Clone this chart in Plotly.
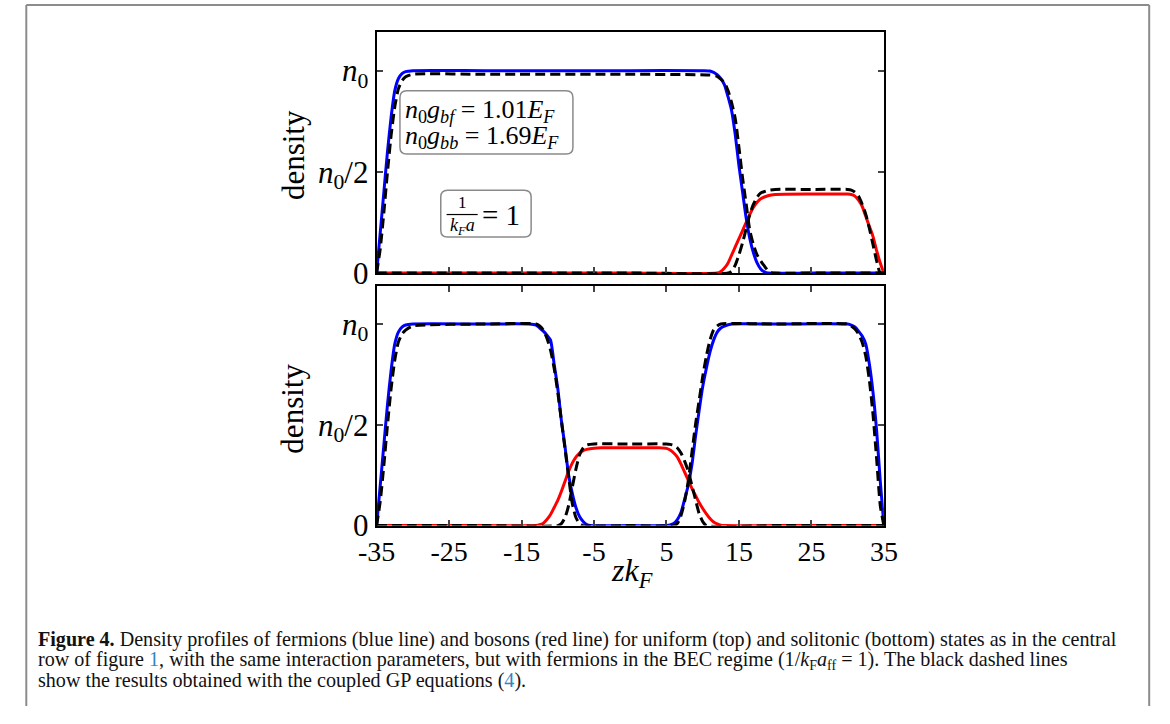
import plotly.graph_objects as go

# ---------------- data ----------------
x_tick_vals = [-35, -25, -15, -5, 5, 15, 25, 35]
x_tick_text = ["-35", "-25", "-15", "-5", "5", "15", "25", "35"]
y_tick_vals = [0, 0.5, 1.0]
y_tick_text = ["0", "<i>n</i><sub>0</sub>/2", "<i>n</i><sub>0</sub>"]

# top panel (uniform state)
top_fermion_z = [-35, -34.5, -34, -33.5, -33, -32.5, -32, -31.5, -31, -30, -20, 0, 10, 11, 12, 12.5, 13, 13.5, 14,
                 14.5, 15, 15.5, 16, 16.5, 17, 17.5, 18, 18.5, 19, 25, 35]
top_fermion_n = [0, 0.2, 0.4, 0.6, 0.77, 0.9, 0.96, 0.985, 0.995, 1.0, 1.0, 1.0, 1.0, 0.998, 0.98, 0.96, 0.93, 0.87, 0.8,
                 0.68, 0.53, 0.4, 0.27, 0.17, 0.1, 0.05, 0.02, 0.006, 0, 0, 0]
top_boson_z = [-35, 0, 12, 12.5, 13, 13.5, 14, 14.5, 15, 15.5, 16, 16.5, 17, 17.5, 18, 19, 20, 25, 30, 30.5, 31,
               31.5, 32, 32.5, 33, 33.5, 34, 34.5, 35]
top_boson_n = [0, 0, 0, 0.008, 0.025, 0.05, 0.09, 0.13, 0.17, 0.21, 0.25, 0.29, 0.325, 0.35, 0.367, 0.382, 0.388,
               0.39, 0.39, 0.388, 0.38, 0.36, 0.33, 0.28, 0.23, 0.18, 0.11, 0.05, 0]
top_gp_fermion_z = [-35, -34.5, -34, -33.5, -33, -32.5, -32, -31.5, -31, -30, -20, 0, 11, 12, 13, 13.5, 14, 14.5,
                    15, 15.5, 16, 16.5, 17, 17.5, 18, 18.5, 19, 19.5, 20, 27, 35]
top_gp_fermion_n = [0, 0.12, 0.3, 0.5, 0.68, 0.82, 0.91, 0.95, 0.97, 0.982, 0.982, 0.982, 0.978, 0.972, 0.94, 0.9,
                    0.84, 0.76, 0.62, 0.47, 0.34, 0.21, 0.14, 0.09, 0.06, 0.035, 0.012, 0.002, 0, 0, 0]
top_gp_boson_z = [-35, 0, 13.5, 14, 14.5, 15, 15.5, 16, 16.5, 17, 17.5, 18, 19, 20, 25, 30, 30.5, 31, 31.5, 32,
                  32.5, 33, 33.5, 34, 34.5, 35]
top_gp_boson_n = [0, 0, 0, 0.01, 0.04, 0.09, 0.15, 0.22, 0.29, 0.34, 0.375, 0.395, 0.408, 0.413, 0.413, 0.413,
                  0.41, 0.40, 0.38, 0.34, 0.29, 0.22, 0.14, 0.06, 0.0, 0]

# bottom panel (solitonic state)
bot_fermion_z = [-35, -34.5, -34, -33.5, -33, -32.5, -32, -31.5, -31, -30, -20, -14, -13, -12.5, -12, -11.5, -11,
                 -10.5, -10, -9.5, -9, -8.5, -8, -7.5, -7, -6.5, -6, -5.5, 0, 5, 5.5, 6, 6.5, 7, 7.5, 8, 8.5, 9,
                 9.5, 10, 10.5, 11, 11.5, 12, 12.5, 13, 14, 20, 30, 30.5, 31, 31.5, 32, 32.5, 33, 33.5, 34, 34.5, 35]
bot_fermion_n = [0, 0.2, 0.4, 0.6, 0.77, 0.9, 0.96, 0.985, 0.995, 1.0, 1.0, 1.0, 0.995, 0.98, 0.965, 0.945, 0.92,
                 0.8, 0.68, 0.52, 0.39, 0.25, 0.16, 0.09, 0.045, 0.02, 0.005, 0, 0, 0, 0.003, 0.01, 0.03, 0.065,
                 0.13, 0.2, 0.3, 0.44, 0.57, 0.69, 0.78, 0.86, 0.92, 0.96, 0.98, 0.99, 1.0, 1.0, 1.0, 0.995, 0.985,
                 0.965, 0.94, 0.9, 0.8, 0.66, 0.47, 0.22, 0]
bot_boson_z = [-35, -20, -13, -12.5, -12, -11.5, -11, -10.5, -10, -9.5, -9, -8.5, -8, -7.5, -7, -6.5, -6, -5, -4,
               0, 4, 5, 5.5, 6, 6.5, 7, 7.5, 8, 8.5, 9, 9.5, 10, 10.5, 11, 11.5, 12, 12.5, 13, 20, 35]
bot_boson_n = [0, 0, 0, 0.004, 0.012, 0.03, 0.055, 0.09, 0.125, 0.17, 0.22, 0.27, 0.31, 0.34, 0.36, 0.372, 0.378,
               0.384, 0.386, 0.386, 0.386, 0.383, 0.375, 0.36, 0.34, 0.305, 0.265, 0.225, 0.185, 0.15, 0.115, 0.085,
               0.058, 0.035, 0.018, 0.008, 0.002, 0, 0, 0]
bot_gp_fermion_z = [-35, -34.5, -34, -33.5, -33, -32.5, -32, -31.5, -31, -30, -20, -13, -12.5, -12, -11.5, -11,
                    -10.5, -10, -9.5, -9, -8.5, -8, -7.5, -7, -6.5, 0, 6, 6.5, 7, 7.5, 8, 8.5, 9, 9.5, 10, 10.5,
                    11, 11.5, 12, 12.5, 20, 30, 30.5, 31, 31.5, 32, 32.5, 33, 33.5, 34, 34.5, 35]
bot_gp_fermion_n = [0, 0.12, 0.3, 0.5, 0.68, 0.82, 0.91, 0.95, 0.97, 0.99, 1.0, 1.0, 0.99, 0.97, 0.93, 0.87, 0.78,
                    0.66, 0.52, 0.38, 0.24, 0.11, 0.04, 0.01, 0, 0, 0, 0.01, 0.05, 0.12, 0.22, 0.36, 0.5, 0.62,
                    0.74, 0.84, 0.92, 0.97, 0.99, 1.0, 1.0, 1.0, 0.99, 0.975, 0.95, 0.91, 0.84, 0.72, 0.55, 0.33,
                    0.1, 0]
bot_gp_boson_z = [-35, -20, -10, -9.5, -9, -8.5, -8, -7.5, -7, -6.5, -6, -5, 0, 5, 5.5, 6, 6.5, 7, 7.5, 8, 8.5, 9,
                  9.5, 10, 10.5, 20, 35]
bot_gp_boson_n = [0, 0, 0, 0.01, 0.04, 0.1, 0.19, 0.28, 0.35, 0.385, 0.4, 0.405, 0.405, 0.405, 0.403, 0.398,
                  0.385, 0.36, 0.32, 0.27, 0.2, 0.13, 0.06, 0.02, 0, 0, 0]

# ---------------- figure ----------------
W, H = 1170, 724
FONT = "Liberation Serif"


def px(x):
    return x / W


def py(y):
    return 1 - y / H


fig = go.Figure()


def add_line(z, n, color, ax, dashed=False):
    xa, ya = ("x", "y") if ax == 1 else ("x2", "y2")
    fig.add_trace(go.Scatter(
        x=z, y=n, mode="lines", xaxis=xa, yaxis=ya, showlegend=False, hoverinfo="skip",
        line=dict(color=color, width=3, shape="spline", smoothing=0.6,
                  dash="10px,5px" if dashed else "solid")))


add_line(top_boson_z, top_boson_n, "#ff0000", 1)
add_line(top_fermion_z, top_fermion_n, "#0000ff", 1)
add_line(top_gp_fermion_z, top_gp_fermion_n, "#000000", 1, True)
add_line(top_gp_boson_z, top_gp_boson_n, "#000000", 1, True)

add_line(bot_boson_z, bot_boson_n, "#ff0000", 2)
add_line(bot_fermion_z, bot_fermion_n, "#0000ff", 2)
add_line(bot_gp_fermion_z, bot_gp_fermion_n, "#000000", 2, True)
add_line(bot_gp_boson_z, bot_gp_boson_n, "#000000", 2, True)

x_dom = [px(368), px(890)]
top_dom = [py(280), py(33)]
bot_dom = [py(539), py(293)]

common_x = dict(range=[-35, 35], tickvals=x_tick_vals, ticktext=x_tick_text, ticks="inside", ticklen=6,
                tickwidth=1.5, showgrid=False, zeroline=False, showline=True, linecolor="black", linewidth=2,
                tickfont=dict(family=FONT, size=28, color="black"), domain=x_dom, fixedrange=True)
common_y = dict(range=[0, 1.19], tickvals=y_tick_vals, ticktext=y_tick_text, ticks="inside", ticklen=6,
                tickwidth=1.5, showgrid=False, zeroline=False, showline=True, linecolor="black", linewidth=2,
                tickfont=dict(family=FONT, size=31, color="black"), mirror="ticks", fixedrange=True)

fig.update_layout(
    width=W, height=H, margin=dict(l=0, r=0, t=0, b=0),
    paper_bgcolor="white", plot_bgcolor="white",
    xaxis=dict(common_x, anchor="y", showticklabels=False, mirror=True),
    yaxis=dict(common_y, anchor="x", domain=top_dom),
    xaxis2=dict(common_x, anchor="y2", showticklabels=True, mirror="ticks"),
    yaxis2=dict(common_y, anchor="x2", domain=bot_dom),
)

ann = []
# axis titles
for yc in (159, 419):
    ann.append(dict(text="density", x=px(282), y=py(yc), xref="paper", yref="paper", showarrow=False,
                    textangle=-90, font=dict(family=FONT, size=31, color="black"), xanchor="center",
                    yanchor="middle"))
ann.append(dict(text="<i>zk</i><sub><i>F</i></sub>", x=px(631), y=py(587), xref="paper", yref="paper",
                showarrow=False, font=dict(family=FONT, size=32, color="black"), xanchor="center",
                yanchor="middle"))

# parameter box text
ann.append(dict(text="<i>n</i><sub>0</sub><i>g</i><sub><i>bf</i></sub> = 1.01<i>E</i><sub><i>F</i></sub>",
                x=px(395), y=py(114), xref="paper", yref="paper", showarrow=False, xanchor="left",
                yanchor="middle", font=dict(family=FONT, size=26, color="black")))
ann.append(dict(text="<i>n</i><sub>0</sub><i>g</i><sub><i>bb</i></sub> = 1.69<i>E</i><sub><i>F</i></sub>",
                x=px(395), y=py(141), xref="paper", yref="paper", showarrow=False, xanchor="left",
                yanchor="middle", font=dict(family=FONT, size=26, color="black")))
# fraction box
ann.append(dict(text="1", x=px(456), y=py(208), xref="paper", yref="paper", showarrow=False,
                xanchor="center", yanchor="middle", font=dict(family=FONT, size=17, color="black")))
ann.append(dict(text="<i>k</i><sub><i>F</i></sub><i>a</i>", x=px(456), y=py(232), xref="paper", yref="paper",
                showarrow=False, xanchor="center", yanchor="middle",
                font=dict(family=FONT, size=18, color="black")))
ann.append(dict(text="= 1", x=px(474), y=py(220), xref="paper", yref="paper", showarrow=False,
                xanchor="left", yanchor="middle", font=dict(family=FONT, size=29, color="black")))

# caption
cap_font = dict(family=FONT, size=20.1, color="#111111")
link = "<span style='color:#2f86c6'>%s</span>"
cap_lines = [
    "<b>Figure 4.</b> Density profiles of fermions (blue line) and bosons (red line) for uniform (top) and "
    "solitonic (bottom) states as in the central",
    "row of figure " + link % "1" + ", with the same interaction parameters, but with fermions in the BEC regime "
    "(1/<i>k</i><sub>F</sub><i>a</i><sub>ff</sub> = 1). The black dashed lines",
    "show the results obtained with the coupled GP equations (" + link % "4" + ").",
]
for i, t in enumerate(cap_lines):
    ann.append(dict(text=t, x=px(18), y=py(656 + 21 * i), xref="paper", yref="paper", showarrow=False,
                    xanchor="left", yanchor="middle", align="left", font=cap_font))

fig.update_layout(annotations=ann)


def rounded_rect(x0, y0, x1, y1, r):
    X0, X1 = px(x0), px(x1)
    Y0, Y1 = py(y0), py(y1)  # Y0 top, Y1 bottom
    rx, ry = r / W, r / H
    return (f"M {X0 + rx},{Y0} L {X1 - rx},{Y0} Q {X1},{Y0} {X1},{Y0 - ry} "
            f"L {X1},{Y1 + ry} Q {X1},{Y1} {X1 - rx},{Y1} L {X0 + rx},{Y1} Q {X0},{Y1} {X0},{Y1 + ry} "
            f"L {X0},{Y0 - ry} Q {X0},{Y0} {X0 + rx},{Y0} Z")


shapes = [
    dict(type="path", path=rounded_rect(392, 93, 570, 158, 7), xref="paper", yref="paper",
         line=dict(color="#8a8a8a", width=1.5), fillcolor="rgba(255,255,255,0.85)", layer="above"),
    dict(type="path", path=rounded_rect(434, 195, 527, 243, 7), xref="paper", yref="paper",
         line=dict(color="#8a8a8a", width=1.5), fillcolor="rgba(255,255,255,0.85)", layer="above"),
    dict(type="line", x0=px(440), x1=px(472), y0=py(220), y1=py(220), xref="paper", yref="paper",
         line=dict(color="black", width=1.2), layer="above"),
    # outer page frame
    dict(type="line", x0=px(7.5), x1=px(7.5), y0=py(5), y1=0, xref="paper", yref="paper",
         line=dict(color="#8c8c8c", width=2)),
    dict(type="line", x0=px(7.5), x1=px(1163), y0=py(5), y1=py(5), xref="paper", yref="paper",
         line=dict(color="#8c8c8c", width=2)),
    dict(type="line", x0=px(1163), x1=px(1163), y0=py(5), y1=0, xref="paper", yref="paper",
         line=dict(color="#8c8c8c", width=2)),
]
fig.update_layout(shapes=shapes)

fig.write_html("out.html")
